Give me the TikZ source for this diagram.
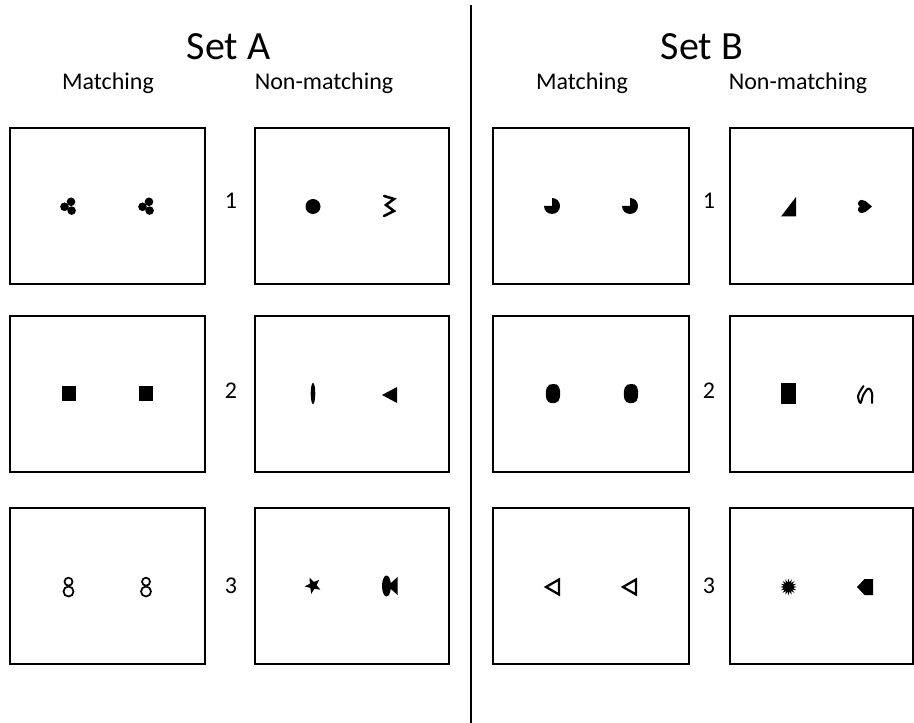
\documentclass[tikz,border=0pt]{standalone}
\usepackage{fontspec}
\setmainfont{Carlito}
\begin{document}
\begin{tikzpicture}[x=0.75pt,y=-0.75pt,
  box/.style={draw=black,line width=0.8pt},
  ttl/.style={font=\fontsize{30}{33}\selectfont,anchor=base,inner sep=0pt},
  lab/.style={font=\fontsize{18}{20}\selectfont,anchor=base,inner sep=0pt},
  stroke/.style={draw=black,line width=1.6pt,line join=round,line cap=round},
  trefoil/.pic={\fill (3,-4.2) circle (4.3); \fill (-3.5,0.8) circle (4.3); \fill (3.6,4.6) circle (4.3);},
  dotshape/.pic={\fill (0,0) circle (7.5);},
  zigzag/.pic={\draw[stroke,line width=1.9pt,line join=miter] (-5,-10) -- (5,-7) -- (-3,-1) -- (5,5) -- (-5,10);},
  sqshape/.pic={\fill (-7,-7.5) rectangle (7,7.5);},
  thinell/.pic={\fill (0,0) ellipse [x radius=2.3, y radius=10.5];},
  lefttri/.pic={\fill (-8,0) -- (7,-8) -- (7,8) -- cycle;},
  eight/.pic={\draw[line width=1.3pt] (0,-5.3) circle (4); \draw[line width=1.3pt] (0,4.5) circle (5);},
  starshape/.pic={\fill[rotate=-12] (90:8.5) -- (126:3.6) -- (162:8.5) -- (198:3.6) -- (234:8.5) -- (270:3.6) -- (306:8.5) -- (342:3.6) -- (18:8.5) -- (54:3.6) -- cycle;},
  bowtie/.pic={\fill (-3,0) ellipse [x radius=4.5, y radius=10.5]; \fill (-2,0) -- (8,-9) -- (8,9) -- cycle;},
  pac/.pic={\fill (0,0) -- (0,-8) arc [start angle=-90, end angle=180, radius=8] -- cycle;},
  righttri/.pic={\fill (-7.5,10) -- (7.5,10) -- (7.5,-9.5) -- cycle;},
  heart/.pic={\fill (-3,-3) circle (3.6); \fill (-3,3) circle (3.6); \fill (-3.5,-6.5) -- (1,-5.5) -- (7.5,0) -- (1,5.5) -- (-3.5,6.5) -- cycle;},
  blob/.pic={\fill plot[smooth cycle, tension=0.7] coordinates {(0,-9.5) (3.5,-9) (6,-6.5) (7,-3) (7.2,0.5) (6.8,4) (5.5,7.5) (2.5,9.3) (-1,9.7) (-4.5,8.6) (-6.6,5.5) (-7.2,1.5) (-7,-2.5) (-6.2,-6) (-3.5,-8.8)};},
  tallrect/.pic={\fill (-7.5,-10.5) rectangle (7.5,10.5);},
  squiggle/.pic={\draw[stroke,line width=1.5pt] plot[smooth, tension=0.6] coordinates {(-1,-7.5) (-6.3,2) (-4,9.5) (-1,1) (4,-5) (7.5,-0.5) (7.5,9.5)};},
  hollowtri/.pic={\draw[draw=black,line width=1.7pt,line join=miter] (-6.5,0) -- (6.5,-7.5) -- (6.5,7.5) -- cycle;},
  burst/.pic={\fill plot[samples=33,domain=0:360,variable=\t] ({(6.5+1.8*cos(16*\t))*cos(\t)},{(6.5+1.8*cos(16*\t))*sin(\t)}) -- cycle;},
  blockarrow/.pic={\fill (-8,0) -- (-0.5,-8) -- (8,-8) -- (8,8) -- (-0.5,8) -- cycle;}
]
\useasboundingbox (0,0) rectangle (914,723);

% divider
\draw[line width=1.5pt] (471,5) -- (471,723);

% titles
\node[ttl] (titleA) at (228.5,60) {Set A};
\node[ttl] (titleB) at (702,60) {Set B};
\node[lab] (mA) at (108,90) {Matching};
\node[lab] (nA) at (324,90) {Non-matching};
\node[lab] (mB) at (582,90) {Matching};
\node[lab] (nB) at (798,90) {Non-matching};

% row numbers
\node[lab] (a1) at (231,208.5) {1};
\node[lab] (a2) at (231,398.5) {2};
\node[lab] (a3) at (231,593.5) {3};
\node[lab] (b1) at (709,208.5) {1};
\node[lab] (b2) at (709,398.5) {2};
\node[lab] (b3) at (709,593.5) {3};

% boxes
\foreach \ya/\yb in {128/284, 316/472, 508/664}{
  \draw[box] (10,\ya) rectangle (205,\yb);
  \draw[box] (255,\ya) rectangle (449,\yb);
  \draw[box] (493,\ya) rectangle (689,\yb);
  \draw[box] (730,\ya) rectangle (913,\yb);
}

% Set A row 1
\pic at (68,206) {trefoil};
\pic at (146,206) {trefoil};
\pic at (313,206.5) {dotshape};
\pic at (389,206) {zigzag};
% Set A row 2
\pic at (69,393.5) {sqshape};
\pic at (146,393.5) {sqshape};
\pic at (313,393.5) {thinell};
\pic at (390,395) {lefttri};
% Set A row 3
\pic at (68.5,587) {eight};
\pic at (146,587) {eight};
\pic at (313,585.5) {starshape};
\pic at (389.5,586) {bowtie};

% Set B row 1
\pic at (552,206) {pac};
\pic at (630,206) {pac};
\pic at (788.5,206.5) {righttri};
\pic at (864.5,206.5) {heart};
% Set B row 2
\pic at (553,393.5) {blob};
\pic at (631,393.5) {blob};
\pic at (788,393.5) {tallrect};
\pic at (864.5,393.5) {squiggle};
% Set B row 3
\pic at (552.5,587) {hollowtri};
\pic at (629.5,587) {hollowtri};
\pic at (788.5,587) {burst};
\pic at (865,587) {blockarrow};
\end{tikzpicture}
\end{document}
